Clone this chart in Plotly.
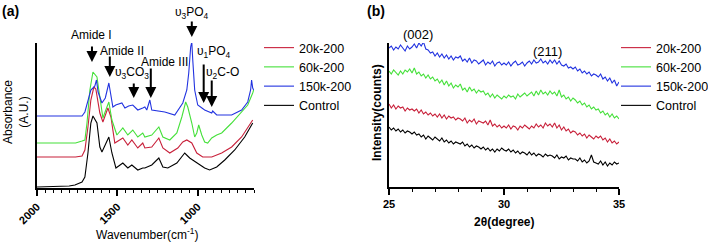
import numpy as np
import plotly.graph_objects as go

# ---------------- (a) FTIR data ----------------
wn_red = [2000, 1760, 1720, 1702, 1683, 1665, 1646, 1634, 1609, 1590, 1559, 1540, 1516, 1466, 1435, 1410,
          1373, 1342, 1329, 1286, 1242, 1217, 1174, 1124, 1093, 1068, 1037, 1006, 969, 913, 851, 789, 727, 665, 658]
abs_red = [31, 31, 32, 38, 61, 88, 101, 99, 75, 66, 80, 71, 45, 50, 43, 48,
           40, 45, 40, 41, 50, 40, 35, 40, 46, 48, 45, 35, 31, 31, 35, 41, 51, 66, 68]

wn_green = [2000, 1760, 1720, 1702, 1689, 1671, 1652, 1640, 1627, 1609, 1590, 1565, 1553, 1534, 1503, 1466,
            1435, 1404, 1373, 1342, 1329, 1286, 1242, 1217, 1174, 1130, 1099, 1075, 1062, 1037, 1019, 1006,
            994, 975, 957, 938, 913, 882, 851, 789, 727, 689, 658, 652]
abs_green = [45, 45, 47, 48, 65, 98, 116, 114, 111, 91, 70, 81, 86, 68, 53, 60,
             53, 58, 51, 55, 51, 53, 61, 51, 48, 55, 71, 86, 81, 65, 51, 55,
             63, 53, 46, 45, 50, 53, 55, 65, 76, 83, 95, 98]

wn_blue = [2000, 1800, 1720, 1702, 1683, 1665, 1652, 1640, 1630, 1620, 1596, 1575, 1553, 1540, 1528, 1510,
           1472, 1453, 1430, 1404, 1373, 1342, 1329, 1317, 1298, 1286, 1205, 1143, 1124, 1093, 1068, 1056,
           1044, 1037, 1031, 1019, 1000, 957, 913, 907, 882, 789, 727, 689, 671, 665, 658, 652]
abs_blue = [72, 72, 72, 76, 88, 98, 100, 102, 108, 96, 85, 90, 105, 92, 81, 83,
            85, 80, 82, 83, 78, 80, 81, 78, 88, 78, 76, 73, 78, 85, 98, 115,
            141, 146, 128, 98, 83, 78, 75, 77, 73, 73, 78, 86, 98, 108, 100, 98]

wn_black = [2000, 1800, 1764, 1720, 1702, 1683, 1665, 1652, 1627, 1609, 1596, 1565, 1553, 1534, 1509, 1466,
            1435, 1410, 1373, 1342, 1329, 1286, 1242, 1217, 1186, 1130, 1099, 1081, 1050, 1006, 957, 926,
            882, 832, 770, 708, 658]
abs_black = [1, 2, 3, 6, 11, 35, 65, 72, 65, 41, 36, 48, 51, 35, 20, 25,
             20, 23, 18, 20, 20, 23, 30, 21, 20, 25, 31, 35, 30, 25, 20, 18,
             21, 28, 38, 51, 65]

# ---------------- (b) XRD data ----------------
two_theta = np.round(np.arange(25.0, 35.0001, 0.1), 2)
xrd_blue = [139, 141, 137, 140, 138, 142, 139, 136, 141, 138, 140,
            143, 139, 144, 141, 145, 138, 137, 134, 135, 131,
            134, 130, 133, 129, 132, 128, 131, 127, 130, 129,
            131, 126, 128, 125, 129, 124, 127, 126, 123, 125,
            127, 122, 125, 123, 126, 121, 124, 125, 122, 124,
            122, 125, 121, 124, 126, 122, 123, 125, 121, 124,
            126, 123, 127, 124, 125, 128, 124, 126, 123, 127,
            124, 127, 123, 126, 122, 121, 123, 119, 120, 118,
            120, 116, 118, 114, 116, 113, 115, 111, 113, 112,
            110, 113, 108, 110, 106, 109, 104, 107, 101, 105]
xrd_green = [116, 113, 117, 114, 112, 116, 113, 117, 115, 118, 114,
             119, 113, 115, 111, 113, 109, 112, 108, 110, 106,
             108, 104, 107, 102, 106, 101, 104, 99, 102, 100,
             103, 97, 99, 95, 100, 96, 98, 94, 97, 95,
             96, 92, 94, 90, 93, 89, 92, 90, 88, 91,
             89, 92, 90, 91, 88, 93, 90, 92, 94, 91,
             93, 95, 91, 96, 92, 97, 93, 95, 92, 96,
             93, 95, 91, 97, 90, 92, 88, 90, 86, 89,
             87, 84, 86, 82, 84, 80, 82, 78, 80, 77,
             78, 74, 76, 72, 74, 70, 73, 69, 71, 68]
xrd_red = [83, 79, 82, 78, 81, 79, 80, 76, 79, 77, 78,
           76, 78, 74, 77, 73, 75, 72, 74, 71, 73,
           70, 73, 69, 72, 68, 71, 69, 70, 67, 69,
           68, 66, 69, 64, 67, 65, 68, 63, 66, 65,
           64, 66, 62, 67, 61, 63, 60, 62, 59, 61,
           59, 62, 58, 61, 60, 57, 61, 59, 62, 60,
           58, 61, 59, 63, 60, 62, 59, 64, 61, 63,
           60, 64, 59, 62, 57, 60, 56, 58, 54, 56,
           55, 52, 54, 51, 53, 49, 52, 50, 48, 51,
           49, 51, 47, 49, 45, 48, 44, 46, 43, 45]
xrd_black = [60, 57, 59, 56, 58, 55, 57, 54, 56, 55, 53,
             55, 52, 53, 50, 52, 48, 51, 49, 47, 50,
             48, 46, 49, 45, 47, 44, 46, 43, 45, 44,
             43, 45, 41, 43, 40, 42, 39, 41, 40, 38,
             40, 37, 39, 36, 38, 35, 38, 36, 39, 37,
             36, 38, 35, 37, 34, 36, 33, 35, 34, 32,
             35, 32, 34, 31, 33, 32, 30, 33, 31, 32,
             31, 29, 32, 28, 30, 29, 31, 27, 29, 28,
             28, 26, 29, 25, 27, 24, 26, 32, 25, 24,
             23, 26, 22, 25, 21, 24, 22, 25, 23, 24]

names = ["20k-200", "60k-200", "150k-200", "Control"]
colors = ["#c8203a", "#45e03a", "#2233e0", "#000000"]

FONT = "Liberation Sans, Arial, sans-serif"

fig = go.Figure()
ftir = [(wn_red, abs_red), (wn_green, abs_green), (wn_blue, abs_blue), (wn_black, abs_black)]
for (x, y), n, c in zip(ftir, names, colors):
    fig.add_trace(go.Scatter(x=x, y=y, mode="lines", name=n, line=dict(color=c, width=1.1),
                             xaxis="x", yaxis="y", legend="legend"))
xrd = [xrd_red, xrd_green, xrd_blue, xrd_black]
for y, n, c in zip(xrd, names, colors):
    fig.add_trace(go.Scatter(x=two_theta, y=y, mode="lines", name=n, line=dict(color=c, width=1.1),
                             xaxis="x2", yaxis="y2", legend="legend2"))

W, H = 708, 243
def px(v): return v / W
def py(v): return 1 - v / H

axis_common = dict(showline=True, linecolor="black", linewidth=2, showgrid=False, zeroline=False,
                   mirror=False, automargin=False)
fig.update_layout(
    width=W, height=H, margin=dict(l=0, r=0, t=0, b=0, autoexpand=False),
    paper_bgcolor="white", plot_bgcolor="white",
    font=dict(family=FONT, color="black", size=12),
    xaxis=dict(domain=[px(37), px(254)], range=[2000, 650], anchor="y",
               tickmode="linear", tick0=0, dtick=500, tickangle=-45,
               ticks="outside", ticklen=6, tickwidth=1.5, tickcolor="black",
               tickfont=dict(size=11, weight="bold"),
               minor=dict(dtick=50, tick0=0, ticks="outside", ticklen=3, tickwidth=1.2, tickcolor="black"),
               **axis_common),
    yaxis=dict(domain=[py(188), py(43)], range=[0, 145], anchor="x",
               showticklabels=False, ticks="", **axis_common),
    xaxis2=dict(domain=[px(389), px(619)], range=[25, 35], anchor="y2",
                tickmode="linear", tick0=25, dtick=5,
                ticks="outside", ticklen=6, tickwidth=1.5, tickcolor="black",
                tickfont=dict(size=11, weight="bold"),
                minor=dict(dtick=1, ticks="outside", ticklen=3, tickwidth=1.2, tickcolor="black"),
                **axis_common),
    yaxis2=dict(domain=[py(187), py(43)], range=[0, 144], anchor="x2",
                showticklabels=False, ticks="", **axis_common),
    legend=dict(x=px(259), y=py(33), xanchor="left", yanchor="top", font=dict(size=12.5),
                bgcolor="rgba(0,0,0,0)", tracegroupgap=0, itemwidth=30),
    legend2=dict(x=px(616), y=py(33), xanchor="left", yanchor="top", font=dict(size=12.5),
                 bgcolor="rgba(0,0,0,0)", tracegroupgap=0, itemwidth=30),
)

ann = []
def text(x, y, t, xref="paper", yref="paper", size=12, bold=False, angle=0):
    ann.append(dict(x=x, y=y, xref=xref, yref=yref, text=t, showarrow=False,
                    font=dict(size=size, weight="bold" if bold else "normal"),
                    textangle=angle, xanchor="center", yanchor="middle"))

def arrow(xw, tip_py, length):
    ann.append(dict(x=xw, y=py(tip_py), xref="x", yref="paper", text="", showarrow=True,
                    ax=0, ay=-length, arrowhead=2, arrowsize=1.1, arrowwidth=2, arrowcolor="black"))

# panel labels
text(px(10), py(11), "(a)", size=14, bold=True)
text(px(376), py(11), "(b)", size=14, bold=True)

# axis titles
text(px(147), py(234), "Wavenumber(cm<sup>-1</sup>)", size=12)
text(px(16), py(112), "Absorbance<br>(A.U.)", size=12, angle=-90)
text(px(504), py(222), "2θ(degree)", size=12, bold=True)
text(px(377), py(112), "Intensity(counts)", size=12, bold=True, angle=-90)

# FTIR band labels and arrows
text(1658, py(35), "Amide I", xref="x")
arrow(1658, 62, 17)
text(1472, py(51), "Amide II", xref="x")
arrow(1547, 77, 22)
text(1410, py(73), "υ<sub>3</sub>CO<sub>3</sub>", xref="x")
arrow(1398, 98, 16)
text(1205, py(62), "Amide III", xref="x")
arrow(1292, 98, 31)
text(1037, py(13), "υ<sub>3</sub>PO<sub>4</sub>", xref="x")
arrow(1037, 37, 17)
text(901, py(52), "υ<sub>1</sub>PO<sub>4</sub>", xref="x")
arrow(963, 103, 40)
text(845, py(73), "υ<sub>2</sub>C-O", xref="x")
arrow(913, 107, 28)

# XRD reflections
text(26.26, py(34), "(002)", xref="x2", size=13)
text(31.9, py(51), "(211)", xref="x2", size=13)

fig.update_layout(annotations=ann)
fig.write_html("out.html", config={"displayModeBar": False},
               post_script="document.body.style.margin='0';document.body.style.overflow='hidden';")
